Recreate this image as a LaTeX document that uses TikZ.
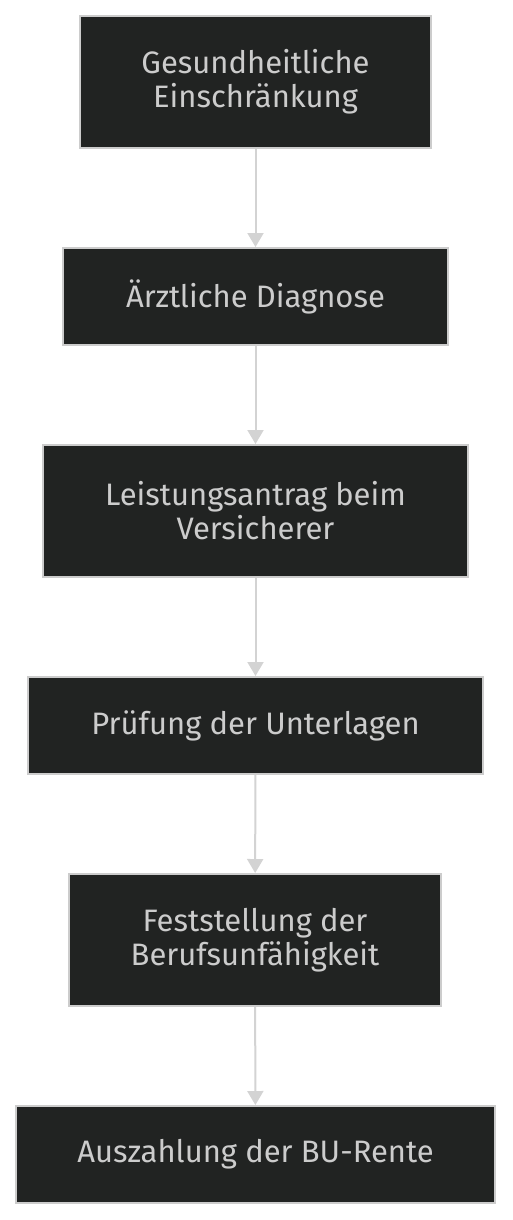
\documentclass[tikz,border=0pt]{standalone}
\usepackage{fontspec}
\setmainfont{Fira Sans}
\usetikzlibrary{arrows.meta}
\definecolor{boxfill}{HTML}{212322}
\definecolor{boxline}{HTML}{CCCCCC}
\definecolor{boxtext}{HTML}{CCCCCC}
\definecolor{arrowline}{HTML}{D3D3D3}
\begin{document}
\begin{tikzpicture}[x=1pt,y=-1pt]
      \tikzstyle{box}=[draw=boxline,fill=boxfill,text=boxtext,line width=2pt,align=center,inner sep=0pt,
        font=\fontsize{31}{34}\selectfont]
      \tikzstyle{edge}=[draw=arrowline,line width=2pt,-{Triangle[width=16pt,length=14pt]}]
      \useasboundingbox (0,0) rectangle (512,1220);
      \node[box,minimum width=351pt,minimum height=132pt] (A) at (255.5,82) {Gesundheitliche\\Einschränkung};
      \node[box,minimum width=385pt,minimum height=97pt] (B) at (255.5,296.5) {Ärztliche Diagnose};
      \node[box,minimum width=425pt,minimum height=132pt] (C) at (255.5,511) {Leistungsantrag beim\\Versicherer};
      \node[box,minimum width=455pt,minimum height=97pt] (D) at (255.5,725.5) {Prüfung der Unterlagen};
      \node[box,minimum width=372pt,minimum height=132pt] (E) at (255,940) {Feststellung der\\Berufsunfähigkeit};
      \node[box,minimum width=479pt,minimum height=97pt] (F) at (255.5,1154.5) {Auszahlung der BU-Rente};
      \path[edge] (A) -- (B);
      \path[edge] (B) -- (C);
      \path[edge] (C) -- (D);
      \path[edge] (D) -- (E);
      \path[edge] (E) -- (F);
    \end{tikzpicture}
\end{document}
